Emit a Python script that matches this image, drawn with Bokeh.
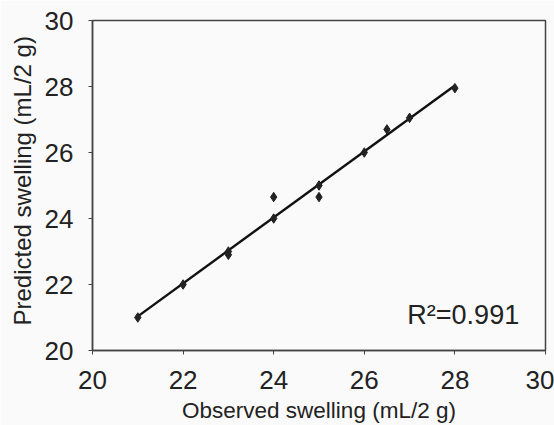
import numpy as np
from bokeh.plotting import figure
from bokeh.models import Label, Range1d, FixedTicker, Title
from bokeh.embed import file_html
from bokeh.resources import INLINE

# Data
observed = [21, 22, 23, 23, 24, 24, 25, 25, 26, 26.5, 27, 28]
predicted = [21.0, 22.0, 23.0, 22.9, 24.0, 24.65, 25.0, 24.65, 26.0, 26.7, 27.05, 27.95]
x_ticks = [20, 22, 24, 26, 28, 30]
y_ticks = [20, 22, 24, 26, 28, 30]
r2_text = "R\u00b2=0.991"
x_label = "Observed swelling (mL/2 g)"
y_label = "Predicted swelling (mL/2 g)"

FONT = "Liberation Sans"
BG = "#fafafa"
INK = "#222222"

p = figure(width=554, height=425, output_backend="svg", toolbar_location=None,
           x_range=Range1d(20, 30), y_range=Range1d(20, 30))
p.min_border_left = 92
p.min_border_right = 9
p.min_border_top = 20
p.min_border_bottom = 72
p.background_fill_color = BG
p.border_fill_color = BG
p.outline_line_color = "#444444"
p.outline_line_width = 1.5
p.grid.visible = False

for ax in (p.xaxis[0], p.yaxis[0]):
    ax.axis_line_color = "#444444"
    ax.axis_line_width = 1.5
    ax.major_tick_line_color = "#444444"
    ax.major_tick_in = 0
    ax.major_tick_out = 4
    ax.minor_tick_line_color = None
    ax.major_label_text_font = FONT
    ax.major_label_text_font_size = "26px"
    ax.major_label_text_color = INK

p.xaxis.ticker = FixedTicker(ticks=x_ticks)
p.yaxis.ticker = FixedTicker(ticks=y_ticks)
p.xaxis.major_label_standoff = 16
p.yaxis.major_label_standoff = 15
p.xaxis.axis_label = x_label
p.xaxis.axis_label_text_font = FONT
p.xaxis.axis_label_text_font_size = "22.5px"
p.xaxis.axis_label_text_font_style = "normal"
p.xaxis.axis_label_text_color = INK
p.xaxis.axis_label_standoff = 6

ytitle = Title(text=y_label, align="left", offset=25, text_font=FONT,
               text_font_size="24px", text_font_style="normal", text_color=INK,
               standoff=12)
p.add_layout(ytitle, "left")

# regression line
slope, intercept = np.polyfit(observed, predicted, 1)
fx = np.array([min(observed), max(observed)])
p.line(fx, slope * fx + intercept, line_color="#111111", line_width=2.4)

p.scatter(observed, predicted, marker="diamond", size=9.5, color=INK)

p.add_layout(Label(x=26.95, y=20.63, text=r2_text, text_font=FONT,
                   text_font_size="27px", text_color=INK))

open("out.html", "w").write(file_html(p, INLINE))
